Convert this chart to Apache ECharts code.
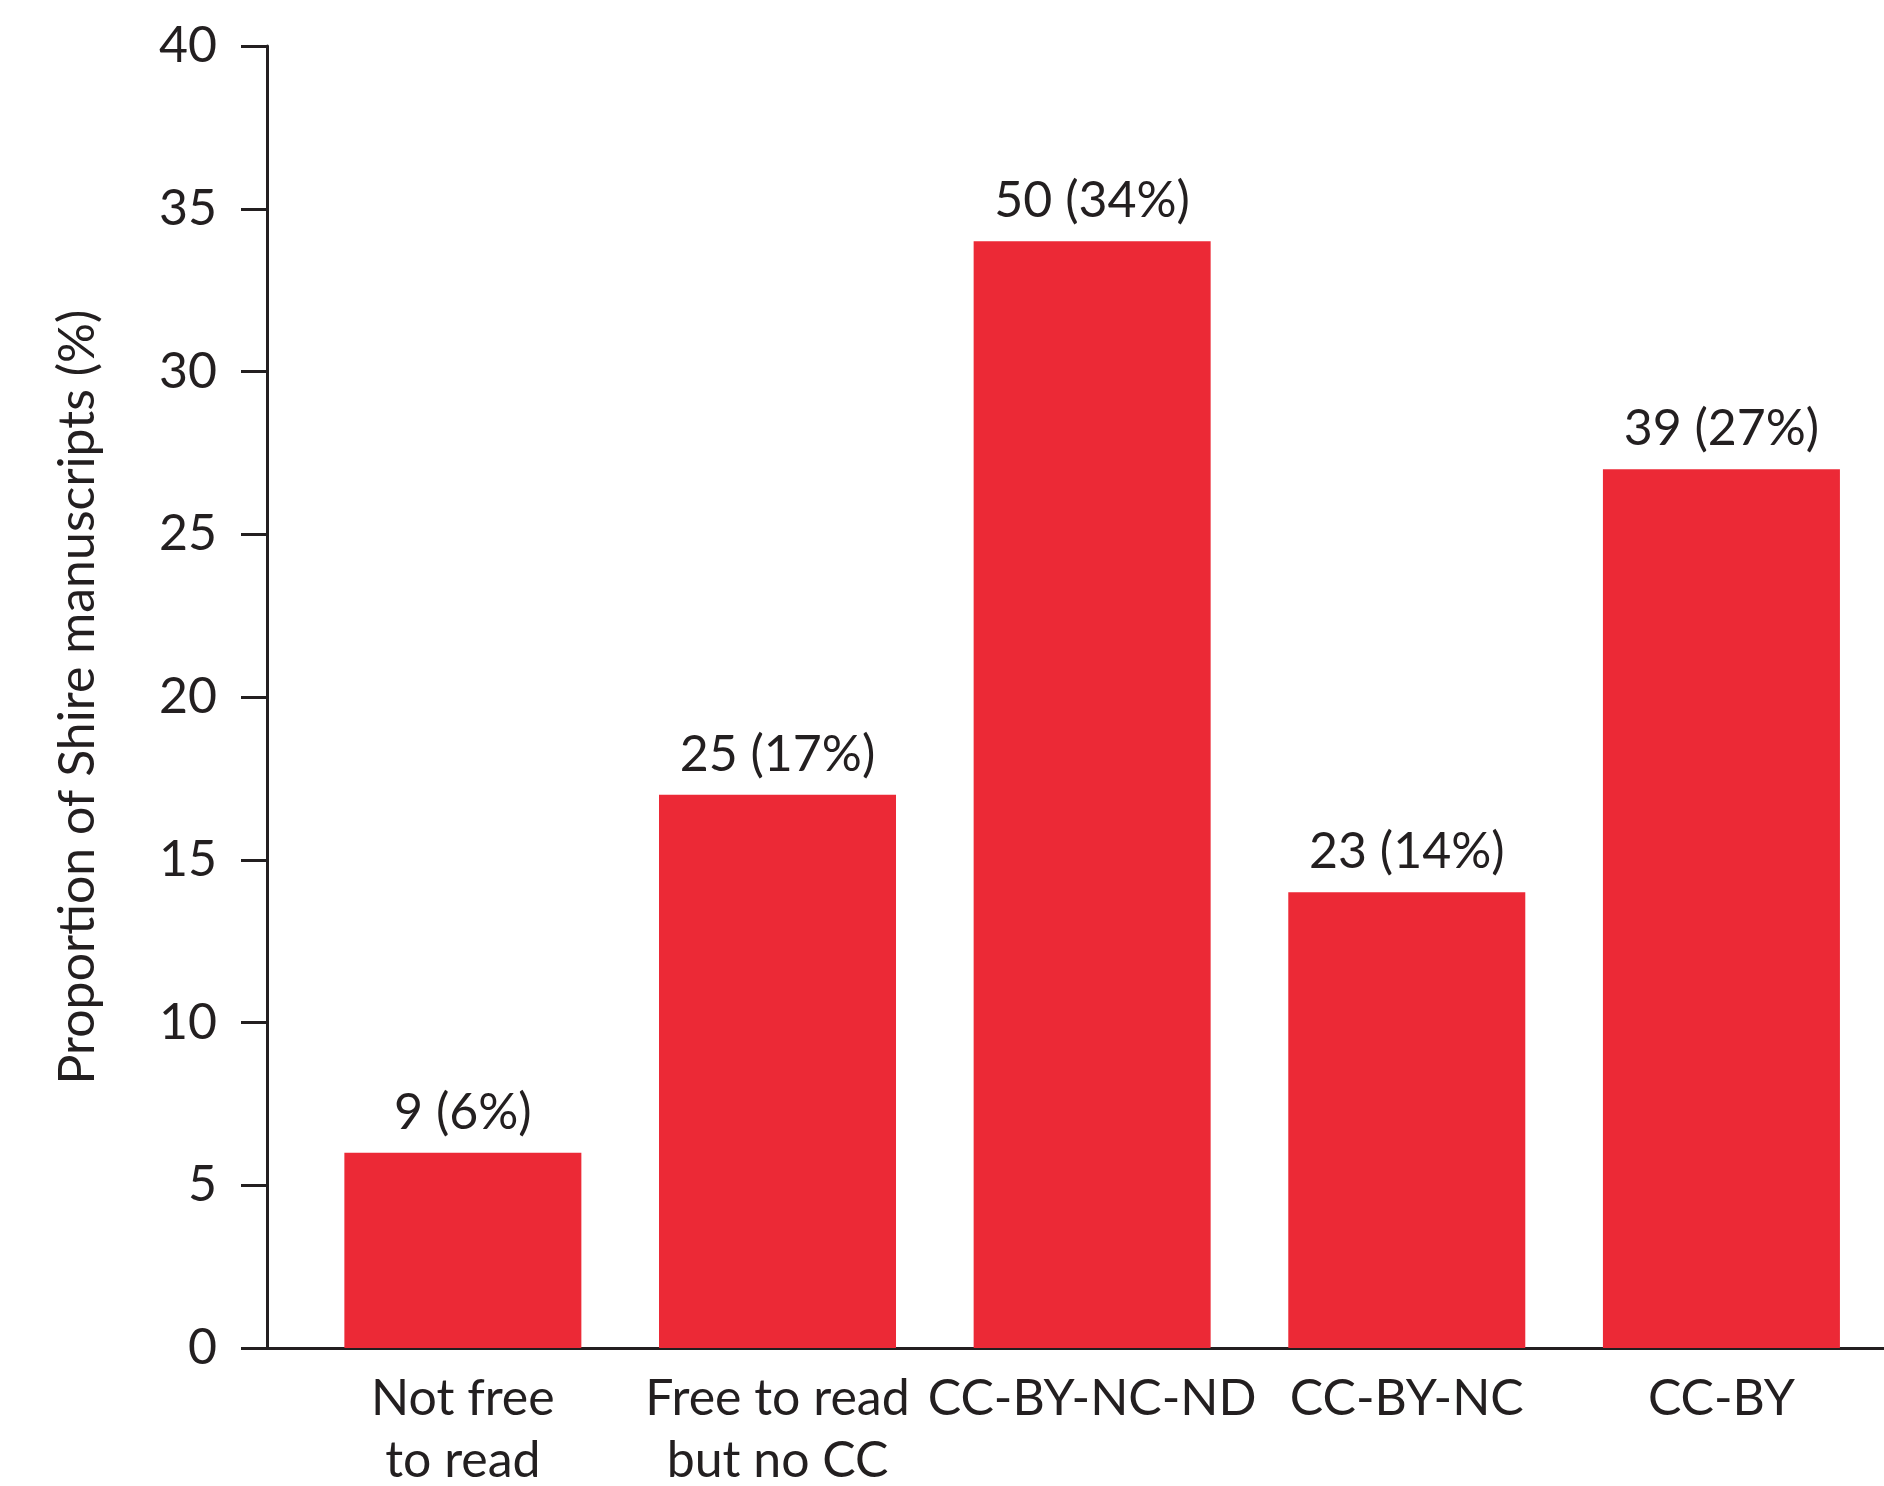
<!DOCTYPE html>
<html>
<head>
<meta charset="utf-8">
<script src="https://cdn.jsdelivr.net/npm/echarts@6/dist/echarts.min.js"></script>
<style>
html,body{margin:0;padding:0;background:#fff;}
#chart{width:1884px;height:1486px;}
</style>
</head>
<body>
<div id="chart"></div>
<script>
const categories = ['Not free\nto read', 'Free to read\nbut no CC', 'CC-BY-NC-ND', 'CC-BY-NC', 'CC-BY'];
const percentages = [6, 17, 34, 14, 27];
const counts = [9, 25, 50, 23, 39];
const yTicks = [0, 5, 10, 15, 20, 25, 30, 35, 40];

const FONT = 'Lato';
const INK = '#231f20';
const RED = '#ec2936';

const chart = echarts.init(document.getElementById('chart'));
const seriesData = percentages.map((p, i) => [i, p]);

chart.setOption({
  animation: false,
  backgroundColor: '#ffffff',
  grid: { left: 267, right: 0, top: 46, bottom: 138, containLabel: false, outerBoundsMode: 'none' },
  xAxis: {
    type: 'value',
    min: -0.6225,
    max: 4.5167,
    axisLine: { show: true, onZero: false, lineStyle: { color: INK, width: 3 } },
    axisTick: { show: false },
    splitLine: { show: false },
    axisLabel: {
      customValues: [0, 1, 2, 3, 4],
      formatter: (v) => categories[Math.round(v)] || '',
      color: INK,
      fontFamily: FONT,
      fontSize: 50,
      lineHeight: 62,
      margin: 20
    }
  },
  yAxis: {
    type: 'value',
    min: yTicks[0],
    max: yTicks[yTicks.length - 1],
    interval: 5,
    name: 'Proportion of Shire manuscripts (%)',
    nameLocation: 'middle',
    nameRotate: 90,
    nameGap: 164,
    nameTextStyle: { color: INK, fontFamily: FONT, fontSize: 50 },
    axisLine: { show: true, onZero: false, lineStyle: { color: INK, width: 3 } },
    axisTick: { show: true, length: 26, lineStyle: { color: INK, width: 3 } },
    splitLine: { show: false },
    axisLabel: { color: INK, fontFamily: FONT, fontSize: 50, margin: 50 }
  },
  series: [{
    type: 'bar',
    data: seriesData,
    barWidth: 237,
    itemStyle: { color: RED },
    label: {
      show: true,
      position: 'top',
      distance: 15,
      color: INK,
      fontFamily: FONT,
      fontSize: 50,
      lineHeight: 50,
      formatter: (p) => counts[p.dataIndex] + ' (' + percentages[p.dataIndex] + '%)'
    }
  }]
});
</script>
</body>
</html>
